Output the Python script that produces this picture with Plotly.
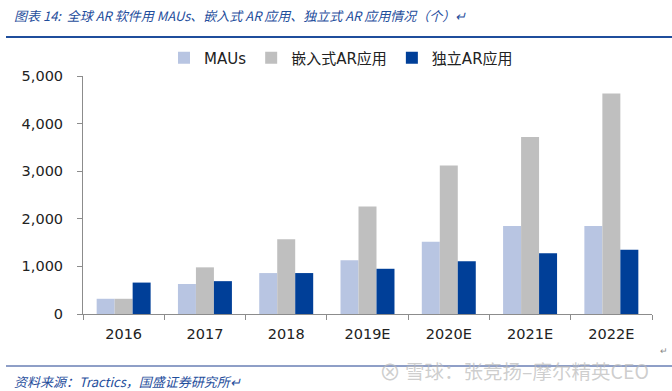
import plotly.graph_objects as go

categories = ["2016", "2017", "2018", "2019E", "2020E", "2021E", "2022E"]
maus = [320, 630, 860, 1130, 1520, 1850, 1850]
embedded_ar = [320, 980, 1570, 2260, 3120, 3720, 4630]
standalone_ar = [660, 690, 860, 950, 1110, 1275, 1350]
series_names = ["MAUs", "嵌入式AR应用", "独立AR应用"]
y_ticks = [0, 1000, 2000, 3000, 4000, 5000]

colors = ["#b8c5e2", "#bfbfbf", "#003f98"]
font_main = "'DejaVu Sans', 'Noto Sans CJK SC', sans-serif"
cjk = "'Noto Sans CJK SC', 'Noto Sans', sans-serif"

L, R, T, B = 83, 20, 76, 77
PW, PH = 672 - L - R, 391 - T - B


def px_x(x):
    return (x - L) / PW


def px_y(y):
    return (391 - B - y) / PH


fig = go.Figure()
for name, vals, c in zip(series_names, [maus, embedded_ar, standalone_ar], colors):
    fig.add_trace(go.Bar(x=categories, y=vals, name=name, marker=dict(color=c, line=dict(width=0))))

fig.update_layout(
    width=672, height=391,
    margin=dict(l=L, r=R, t=T, b=B),
    paper_bgcolor="white", plot_bgcolor="white",
    barmode="group", bargap=0.336, bargroupgap=0,
    font=dict(family=font_main, color="#222222", size=14),
    legend=dict(orientation="h", x=px_x(164), y=px_y(58), xanchor="left", yanchor="middle",
                font=dict(size=15, family=font_main, color="#222222"),
                itemwidth=30, traceorder="normal", bgcolor="rgba(0,0,0,0)"),
    showlegend=True,
)
fig.update_yaxes(range=[0, 5000], tickvals=y_ticks, tickformat=",d",
                 showgrid=False, zeroline=False, showline=True, linecolor="#8c8c8c", linewidth=1,
                 ticks="outside", ticklen=5, tickcolor="#8c8c8c", ticklabelstandoff=11,
                 tickfont=dict(size=14.5, family=font_main))
fig.update_xaxes(showgrid=False, showline=True, linecolor="#8c8c8c", linewidth=1,
                 ticks="outside", ticklen=5, tickcolor="#8c8c8c", tickson="boundaries",
                 ticklabelstandoff=7, tickfont=dict(size=14.5, family=font_main))

# header / footer
fig.add_annotation(xref="paper", yref="paper", x=px_x(12), y=px_y(15), xanchor="left", yanchor="middle",
                   text="图表 14:  全球 AR 软件用 MAUs、嵌入式 AR 应用、独立式 AR 应用情况（个）↵",
                   showarrow=False, font=dict(size=13, color="#1f4e9c", family=cjk, style="italic"))
fig.add_shape(type="line", xref="paper", yref="paper", x0=px_x(6), x1=px_x(672),
              y0=px_y(37), y1=px_y(37), line=dict(color="#1f4e9c", width=2))
fig.add_shape(type="line", xref="paper", yref="paper", x0=px_x(6), x1=px_x(672),
              y0=px_y(366), y1=px_y(366), line=dict(color="#1f3f8f", width=1))
fig.add_annotation(xref="paper", yref="paper", x=px_x(12), y=px_y(381), xanchor="left", yanchor="middle",
                   text="资料来源：Tractics，国盛证券研究所↵",
                   showarrow=False, font=dict(size=13, color="#1f4e9c", family=cjk, style="italic"))
fig.add_annotation(xref="paper", yref="paper", x=px_x(403), y=px_y(370), xanchor="left", yanchor="middle",
                   text="雪球：张竞扬–摩尔精英CEO",
                   showarrow=False, font=dict(size=19.5, color="rgba(185,185,185,0.7)", family=cjk))
fig.add_annotation(xref="paper", yref="paper", x=px_x(390), y=px_y(370), xanchor="center", yanchor="middle",
                   text="⊗", showarrow=False, font=dict(size=22, color="rgba(185,185,185,0.7)", family=cjk))
fig.add_annotation(xref="paper", yref="paper", x=px_x(664), y=px_y(350), xanchor="center", yanchor="middle",
                   text="↵", showarrow=False, font=dict(size=9, color="#888888", family=cjk))

fig.write_html("out.html", config={"displayModeBar": False},
               post_script="document.body.style.margin='0';")
